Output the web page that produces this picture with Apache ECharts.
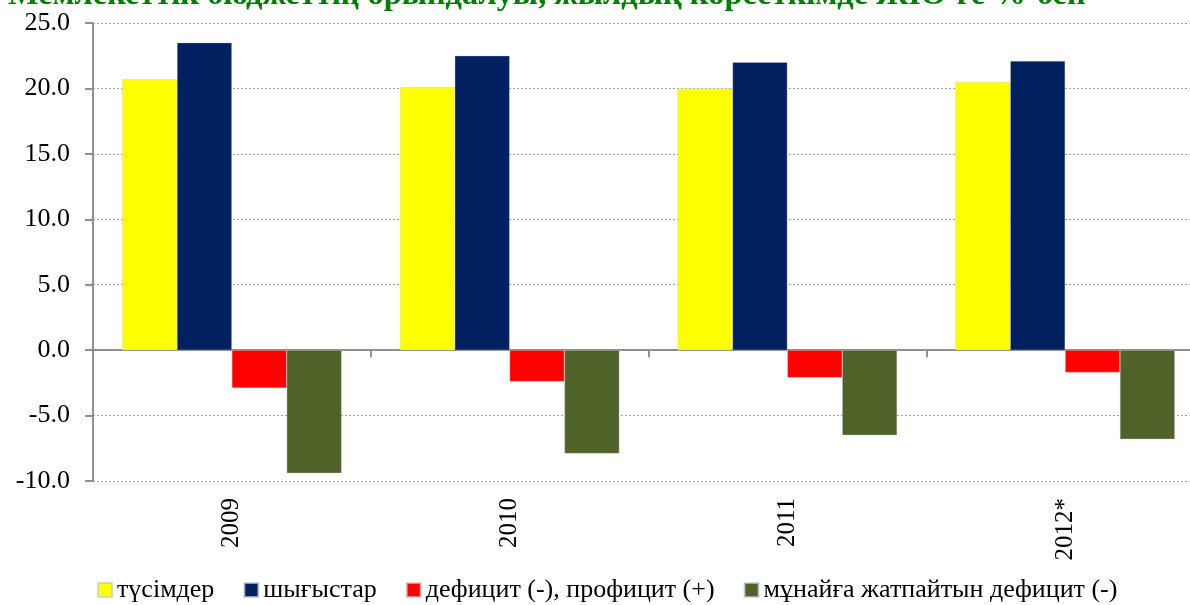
<!DOCTYPE html>
<html>
<head>
<meta charset="utf-8">
<script src="https://cdn.jsdelivr.net/npm/echarts@6/dist/echarts.min.js"></script>
<style>html,body{margin:0;padding:0;background:#fff;overflow:hidden;width:1190px;height:605px}#c{width:1204px;height:605px}</style>
</head>
<body>
<div id="c"></div>
<script>
var categories = ['2009', '2010', '2011', '2012*'];
var seriesNames = ['түсімдер', 'шығыстар', 'дефицит (-), профицит (+)', 'мұнайға жатпайтын дефицит (-)'];
var revenues = [20.7, 20.1, 20.0, 20.5];
var expenditures = [23.5, 22.5, 22.0, 22.1];
var deficit = [-2.9, -2.4, -2.1, -1.7];
var nonOilDeficit = [-9.4, -7.9, -6.5, -6.8];
var titleText = 'Мемлекеттік бюджеттің орындалуы, жылдық көрсеткімде ЖІӨ-ге %-бен';

var colors = ['#FFFF00', '#002060', '#FF0000', '#4F6228'];
var serif = '"Liberation Serif", "Times New Roman", serif';
var chart = echarts.init(document.getElementById('c'));
var values = [revenues, expenditures, deficit, nonOilDeficit];
chart.setOption({
  animation: false,
  graphic: [{
    type: 'text', left: 8, top: -20,
    style: { text: titleText, font: 'bold 32.4px ' + serif, fill: '#008000' }
  }],
  grid: { left: 93, right: 0, top: 23, bottom: 124 },
  legend: {
    top: 577, left: 97, padding: 0,
    itemWidth: 14, itemHeight: 14, itemGap: 29,
    icon: 'rect',
    textStyle: { fontFamily: serif, fontSize: 26, color: '#000' },
    data: seriesNames
  },
  xAxis: [{
    type: 'category', data: categories, position: 'bottom',
    axisLine: { onZero: false, show: false },
    axisTick: { show: false },
    axisLabel: { rotate: 90, margin: 17, fontFamily: serif, fontSize: 25, color: '#000' }
  }, {
    type: 'category', data: categories, position: 'top',
    axisLine: { onZero: true, lineStyle: { color: '#909090', width: 2 } },
    axisTick: { show: true, inside: true, length: 7, lineStyle: { color: '#909090', width: 2 } },
    axisLabel: { show: false }
  }],
  yAxis: {
    type: 'value', min: -10, max: 25, interval: 5,
    axisLine: { show: true, onZero: false, lineStyle: { color: '#909090', width: 2 } },
    axisTick: { show: true, length: 8, lineStyle: { color: '#909090', width: 2 } },
    axisLabel: { margin: 23, fontFamily: serif, fontSize: 26, color: '#000',
      formatter: function (v) { return v.toFixed(1); } },
    splitLine: { lineStyle: { color: '#a0a0a0', type: [2, 2], width: 1 } }
  },
  series: seriesNames.map(function (n, i) {
    return {
      name: n, type: 'bar', data: values[i], xAxisIndex: 0,
      barGap: '0%', barCategoryGap: '21%',
      itemStyle: { color: colors[i], borderColor: 'rgba(200,200,210,0.7)', borderWidth: 0.5 }
    };
  })
});
</script>
</body>
</html>
